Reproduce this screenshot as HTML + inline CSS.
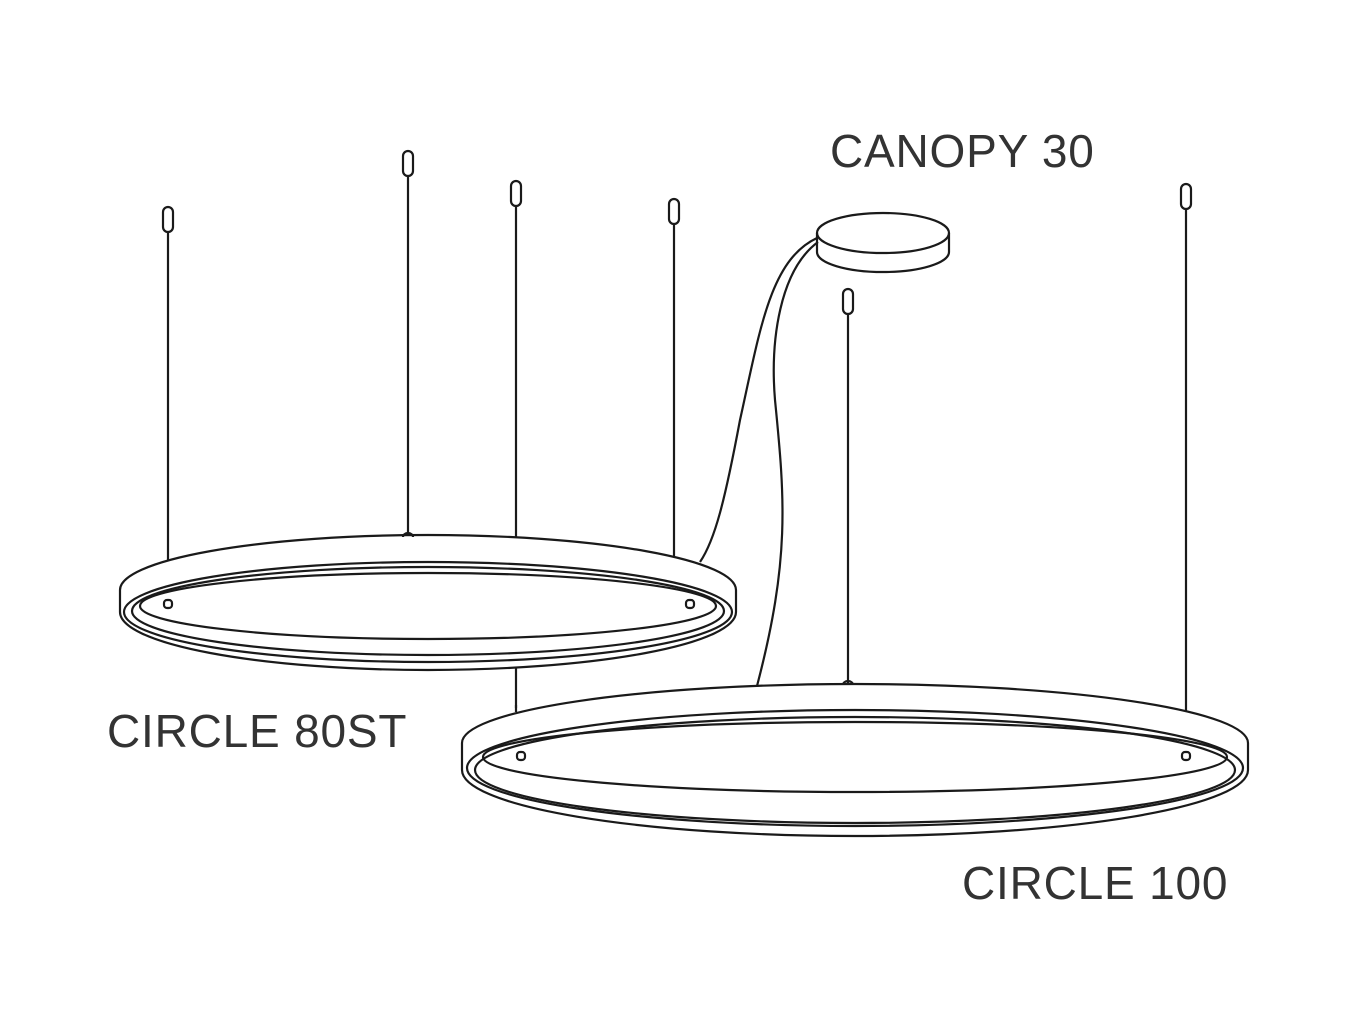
<!DOCTYPE html>
<html><head><meta charset="utf-8"><style>
html,body{margin:0;padding:0;background:#fff}
svg{display:block}
text{font-family:"Liberation Sans",sans-serif;fill:#333;font-size:46px;letter-spacing:0.8px}
</style></head><body>
<svg width="1365" height="1024" viewBox="0 0 1365 1024" xmlns="http://www.w3.org/2000/svg">
<g fill="none" stroke="#1a1a1a" stroke-width="2.2">
<line x1="168" y1="230" x2="168" y2="560"/>
<line x1="408" y1="175" x2="408" y2="535"/>
<line x1="516" y1="205" x2="516" y2="708"/>
<line x1="674" y1="222" x2="674" y2="557"/>
<line x1="848" y1="312" x2="848" y2="683"/>
<line x1="1186" y1="208" x2="1186" y2="738"/>
<rect x="163" y="207" width="10" height="25" rx="5" fill="#fff"/>
<rect x="403" y="151" width="10" height="25" rx="5" fill="#fff"/>
<rect x="511" y="181" width="10" height="25" rx="5" fill="#fff"/>
<rect x="669" y="199" width="10" height="25" rx="5" fill="#fff"/>
<rect x="843" y="289" width="10" height="25" rx="5" fill="#fff"/>
<rect x="1181" y="184" width="10" height="25" rx="5" fill="#fff"/>
<path d="M817 233 A66 20 0 0 1 949 233 L949 252 A66 20 0 0 1 817 252 Z" fill="#fff"/>
<path d="M817 233 A66 20 0 0 0 949 233"/>
<path d="M817 238 C770 260 760 330 740 420 C725 500 715 540 700 562"/>
<path d="M818 242 C780 270 770 340 775 400 C785 500 790 560 757 686"/>
<path d="M120 590 A308 55 0 0 1 736 590 L736 612 A308 58 0 0 1 120 612 Z" fill="#fff"/>
<ellipse cx="428" cy="612" rx="304" ry="50"/>
<ellipse cx="428" cy="611" rx="296" ry="44"/>
<ellipse cx="428" cy="606" rx="288" ry="33"/>
<path d="M403 537 a5 4 0 0 1 10 0"/>
<rect x="164" y="600" width="8" height="8" rx="3"/>
<rect x="686" y="600" width="8" height="8" rx="3"/>
<path d="M462 743 A393 59 0 0 1 1248 743 L1248 770 A393 66 0 0 1 462 770 Z" fill="#fff"/>
<ellipse cx="855" cy="768" rx="388" ry="58"/>
<ellipse cx="855" cy="770" rx="380" ry="53"/>
<ellipse cx="855" cy="757" rx="372" ry="35"/>
<path d="M843 685 a5 4 0 0 1 10 0"/>
<line x1="516" y1="705" x2="516" y2="712"/>
<rect x="517" y="752" width="8" height="8" rx="3"/>
<rect x="1182" y="752" width="8" height="8" rx="3"/>
</g>
<text x="830" y="167">CANOPY 30</text>
<text x="107" y="747">CIRCLE 80ST</text>
<text x="962" y="899">CIRCLE 100</text>
</svg>
</body></html>
